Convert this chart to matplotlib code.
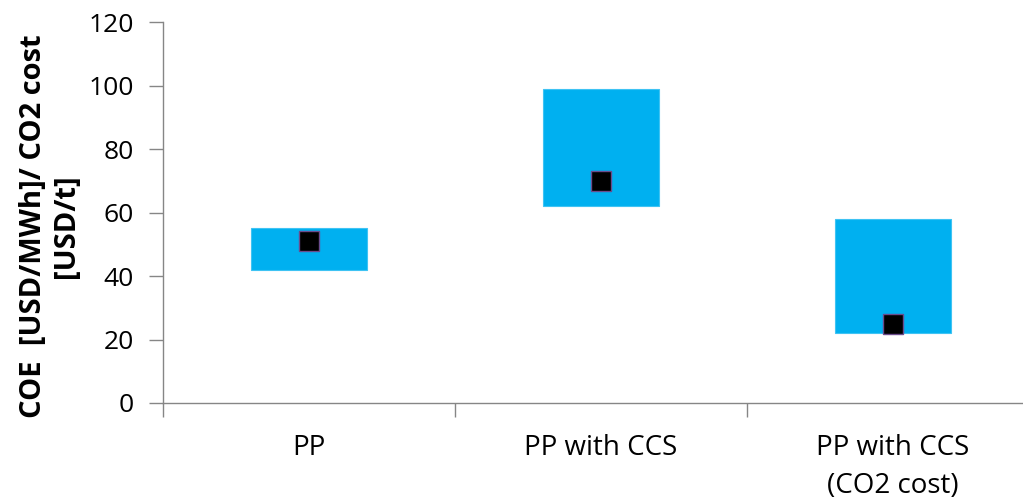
import matplotlib
matplotlib.use("Agg")
import matplotlib.pyplot as plt
import numpy as np

# cost ranges (low/high) and the reference value for each case
categories = ["PP", "PP with CCS", "PP with CCS\n(CO2 cost)"]
range_low = [42, 62, 22]
range_high = [55, 99, 58]
point_value = [51, 70, 25]
y_ticks = [0, 20, 40, 60, 80, 100, 120]

plt.rcParams["font.family"] = ["Open Sans", "DejaVu Sans"]

W, H = 1023, 504
fig = plt.figure(figsize=(W / 100, H / 100), dpi=100)
# the plot area runs past the right edge on purpose (last category is cut off)
ax = fig.add_axes([163 / W, (H - 403) / H, (1039 - 163) / W, (403 - 22) / H])

x = np.arange(len(categories))
heights = np.array(range_high) - np.array(range_low)
ax.bar(x, heights, bottom=range_low, width=0.4, color="#00B0F0",
       edgecolor="#3FC3F3", linewidth=0.8, zorder=2)
ax.plot(x, point_value, "s", color="black", markersize=14,
        markeredgecolor="#6B4C8C", markeredgewidth=1.0, zorder=3)

ax.set_xlim(-0.5, len(categories) - 0.5)
ax.set_ylim(0, 120)
ax.set_yticks(y_ticks)

# boundary ticks on x, labels centred under each bar
ax.set_xticks(np.arange(len(categories) + 1) - 0.5)
ax.set_xticklabels([])
ax.set_xticks(x, minor=True)
ax.set_xticklabels(categories, minor=True, fontsize=20, linespacing=1.5)
ax.tick_params(axis="x", which="minor", length=0, pad=22)
ax.tick_params(axis="x", which="major", length=10, width=1, color="#868686")
ax.tick_params(axis="y", length=10, width=1, color="#868686", pad=11,
               labelsize=19)

for side in ("top", "right"):
    ax.spines[side].set_visible(False)
for side in ("left", "bottom"):
    ax.spines[side].set_color("#868686")
    ax.spines[side].set_linewidth(1)

fig.text(50 / W, 1 - 226 / H, "COE  [USD/MWh]/ CO2 cost\n[USD/t]",
         rotation=90, ha="center", va="center", fontsize=21,
         fontweight="bold", linespacing=1.15)

fig.savefig("out.png", dpi=100)
